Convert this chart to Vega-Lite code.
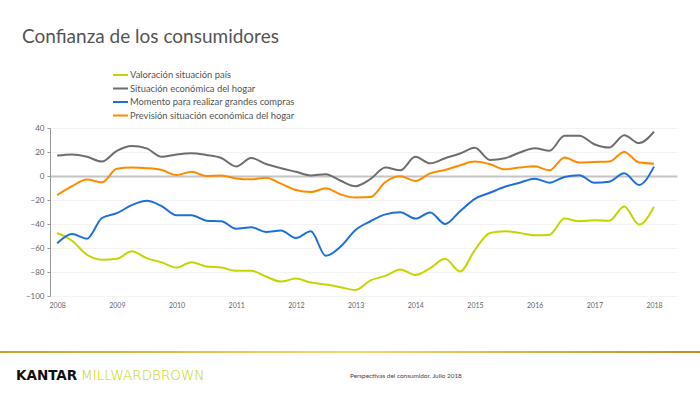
{
  "$schema": "https://vega.github.io/schema/vega-lite/v6.json",
  "width": 627,
  "height": 168,
  "autosize": {"type": "none"},
  "padding": {"left": 50, "top": 128, "right": 23, "bottom": 98},
  "background": "white",
  "title": {"text": "Confianza de los consumidores", "anchor": "start", "frame": "group", "dx": -28, "offset": 7, "baseline": "alphabetic", "fontSize": 19, "font": "Lato", "fontWeight": "normal", "color": "#555555"},
  "config": {"view": {"stroke": null}, "font": "Lato", "axis": {"labelOverlap": false}, "axisY": {"labelOverlap": false}},
  "layer": [
    {
      "data": {"values": [
        {"t": 2008, "Valoración situación país": -47.5, "Situación económica del hogar": 17, "Momento para realizar grandes compras": -56, "Previsión situación económica del hogar": -16},
        {"t": 2008.25, "Valoración situación país": -54, "Situación económica del hogar": 18, "Momento para realizar grandes compras": -48.3, "Previsión situación económica del hogar": -8.5},
        {"t": 2008.5, "Valoración situación país": -65.6, "Situación económica del hogar": 16, "Momento para realizar grandes compras": -52.2, "Previsión situación económica del hogar": -3},
        {"t": 2008.75, "Valoración situación país": -69.8, "Situación económica del hogar": 12, "Momento para realizar grandes compras": -35, "Previsión situación económica del hogar": -5.3},
        {"t": 2009, "Valoración situación país": -69, "Situación económica del hogar": 21, "Momento para realizar grandes compras": -31, "Previsión situación económica del hogar": 6},
        {"t": 2009.25, "Valoración situación país": -62.8, "Situación económica del hogar": 25, "Momento para realizar grandes compras": -24.3, "Previsión situación económica del hogar": 7},
        {"t": 2009.5, "Valoración situación país": -68.4, "Situación económica del hogar": 23, "Momento para realizar grandes compras": -20.7, "Previsión situación económica del hogar": 6.5},
        {"t": 2009.75, "Valoración situación país": -72, "Situación económica del hogar": 16, "Momento para realizar grandes compras": -25.1, "Previsión situación económica del hogar": 5},
        {"t": 2010, "Valoración situación país": -76.3, "Situación económica del hogar": 18, "Momento para realizar grandes compras": -32.7, "Previsión situación económica del hogar": 0.8},
        {"t": 2010.25, "Valoración situación país": -71.8, "Situación económica del hogar": 19, "Momento para realizar grandes compras": -32.7, "Previsión situación económica del hogar": 3.6},
        {"t": 2010.5, "Valoración situación país": -75.4, "Situación económica del hogar": 17.5, "Momento para realizar grandes compras": -37.2, "Previsión situación económica del hogar": 0},
        {"t": 2010.75, "Valoración situación país": -76.3, "Situación económica del hogar": 15, "Momento para realizar grandes compras": -37.7, "Previsión situación económica del hogar": 0.5},
        {"t": 2011, "Valoración situación país": -79, "Situación económica del hogar": 8, "Momento para realizar grandes compras": -43.9, "Previsión situación económica del hogar": -2},
        {"t": 2011.25, "Valoración situación país": -79, "Situación económica del hogar": 15, "Momento para realizar grandes compras": -42.7, "Previsión situación económica del hogar": -2.8},
        {"t": 2011.5, "Valoración situación país": -83.8, "Situación económica del hogar": 10, "Momento para realizar grandes compras": -46.6, "Previsión situación económica del hogar": -1.4},
        {"t": 2011.75, "Valoración situación país": -88, "Situación económica del hogar": 6.5, "Momento para realizar grandes compras": -45.5, "Previsión situación económica del hogar": -6.4},
        {"t": 2012, "Valoración situación país": -85.5, "Situación económica del hogar": 3.5, "Momento para realizar grandes compras": -51.7, "Previsión situación económica del hogar": -11.7},
        {"t": 2012.25, "Valoración situación país": -88.8, "Situación económica del hogar": 0.5, "Momento para realizar grandes compras": -46, "Previsión situación económica del hogar": -13.4},
        {"t": 2012.5, "Valoración situación país": -90.5, "Situación económica del hogar": 1.5, "Momento para realizar grandes compras": -66.5, "Previsión situación económica del hogar": -10.3},
        {"t": 2012.75, "Valoración situación país": -92.7, "Situación económica del hogar": -4, "Momento para realizar grandes compras": -58.7, "Previsión situación económica del hogar": -15.4},
        {"t": 2013, "Valoración situación país": -95, "Situación económica del hogar": -8.5, "Momento para realizar grandes compras": -45, "Previsión situación económica del hogar": -18},
        {"t": 2013.25, "Valoración situación país": -87, "Situación económica del hogar": -2.5, "Momento para realizar grandes compras": -37.7, "Previsión situación económica del hogar": -17.6},
        {"t": 2013.5, "Valoración situación país": -83.2, "Situación económica del hogar": 7, "Momento para realizar grandes compras": -32, "Previsión situación económica del hogar": -5},
        {"t": 2013.75, "Valoración situación país": -77.9, "Situación económica del hogar": 4.7, "Momento para realizar grandes compras": -30.2, "Previsión situación económica del hogar": -0.3},
        {"t": 2014, "Valoración situación país": -82.4, "Situación económica del hogar": 16, "Momento para realizar grandes compras": -35.5, "Previsión situación económica del hogar": -4.2},
        {"t": 2014.25, "Valoración situación país": -76.8, "Situación económica del hogar": 10.6, "Momento para realizar grandes compras": -30.4, "Previsión situación económica del hogar": 2.2},
        {"t": 2014.5, "Valoración situación país": -69, "Situación económica del hogar": 14.8, "Momento para realizar grandes compras": -40, "Previsión situación económica del hogar": 5},
        {"t": 2014.75, "Valoración situación país": -79.6, "Situación económica del hogar": 18.7, "Momento para realizar grandes compras": -29.3, "Previsión situación económica del hogar": 8.9},
        {"t": 2015, "Valoración situación país": -61.5, "Situación económica del hogar": 23.5, "Momento para realizar grandes compras": -19, "Previsión situación económica del hogar": 12},
        {"t": 2015.25, "Valoración situación país": -47.5, "Situación económica del hogar": 13.4, "Momento para realizar grandes compras": -14, "Previsión situación económica del hogar": 9.8},
        {"t": 2015.5, "Valoración situación país": -46, "Situación económica del hogar": 14.8, "Momento para realizar grandes compras": -9, "Previsión situación económica del hogar": 5.6},
        {"t": 2015.75, "Valoración situación país": -47.5, "Situación económica del hogar": 19.6, "Momento para realizar grandes compras": -5.6, "Previsión situación económica del hogar": 7},
        {"t": 2016, "Valoración situación país": -49.4, "Situación económica del hogar": 23.2, "Momento para realizar grandes compras": -2.2, "Previsión situación económica del hogar": 8.1},
        {"t": 2016.25, "Valoración situación país": -48.9, "Situación económica del hogar": 21, "Momento para realizar grandes compras": -5.6, "Previsión situación económica del hogar": 4.7},
        {"t": 2016.5, "Valoración situación país": -35.5, "Situación económica del hogar": 33.5, "Momento para realizar grandes compras": -0.8, "Previsión situación económica del hogar": 15.4},
        {"t": 2016.75, "Valoración situación país": -37.7, "Situación económica del hogar": 33.5, "Momento para realizar grandes compras": 0.6, "Previsión situación económica del hogar": 11.2},
        {"t": 2017, "Valoración situación país": -36.9, "Situación económica del hogar": 26.5, "Momento para realizar grandes compras": -5.6, "Previsión situación económica del hogar": 11.7},
        {"t": 2017.25, "Valoración situación país": -37.2, "Situación económica del hogar": 23.7, "Momento para realizar grandes compras": -4.7, "Previsión situación económica del hogar": 12},
        {"t": 2017.5, "Valoración situación país": -25.4, "Situación económica del hogar": 34, "Momento para realizar grandes compras": 2.2, "Previsión situación económica del hogar": 20.1},
        {"t": 2017.75, "Valoración situación país": -40.5, "Situación económica del hogar": 27.4, "Momento para realizar grandes compras": -7.5, "Previsión situación económica del hogar": 11.2},
        {"t": 2018, "Valoración situación país": -25.7, "Situación económica del hogar": 37, "Momento para realizar grandes compras": 7.8, "Previsión situación económica del hogar": 10.3}
      ]},
      "transform": [{"fold": ["Valoración situación país", "Situación económica del hogar", "Momento para realizar grandes compras", "Previsión situación económica del hogar"], "as": ["serie", "valor"]}],
      "mark": {"type": "line", "interpolate": "monotone", "strokeWidth": 2},
      "encoding": {
        "x": {"field": "t", "type": "quantitative", "scale": {"domain": [2007.88, 2018.385], "nice": false, "zero": false},
              "axis": {"title": null, "values": [2008, 2009, 2010, 2011, 2012, 2013, 2014, 2015, 2016, 2017, 2018], "format": "d", "domain": false, "ticks": false, "grid": false, "labelOverlap": false, "labelFontSize": 7, "labelColor": "#666666", "labelPadding": 5, "labelFont": "Lato"}},
        "y": {"field": "valor", "type": "quantitative", "scale": {"domain": [-100, 40], "nice": false},
              "axis": {"title": null, "values": [-100, -80, -60, -40, -20, 0, 20, 40], "labelOverlap": false, "domainColor": "#999999", "tickColor": "#999999", "tickSize": 3, "labelFontSize": 8, "labelColor": "#666666", "labelPadding": 3,
                       "gridColor": {"condition": {"test": "datum.value === 0", "value": "#c4c4c4"}, "value": "#f3f3f3"},
                       "gridWidth": {"condition": {"test": "datum.value === 0", "value": 2}, "value": 1},
                       "labelFont": "Lato"}},
        "color": {"field": "serie", "type": "nominal",
                  "scale": {"domain": ["Valoración situación país", "Situación económica del hogar", "Momento para realizar grandes compras", "Previsión situación económica del hogar"], "range": ["#c6d400", "#6e6e6e", "#1e6fdc", "#ff8a00"]},
                  "legend": {"orient": "none", "legendX": 62, "legendY": -59, "title": null, "symbolType": "stroke", "symbolSize": 225, "symbolStrokeWidth": 2, "labelFontSize": 9.4, "labelLimit": 400, "labelColor": "#555555", "labelFont": "Lato", "labelOffset": 1, "clipHeight": 12, "rowPadding": 1.5, "padding": 0}}
      }
    },
    {
      "data": {"values": [{}]},
      "mark": {"type": "rect", "x": -50, "x2": 650, "y": 223, "y2": 225, "fill": {"gradient": "linear", "x1": 0, "x2": 1, "y1": 0, "y2": 0, "stops": [{"offset": 0, "color": "#c9a227"}, {"offset": 0.5, "color": "#f3d870"}, {"offset": 1, "color": "#c09020"}]}},
      "encoding": {}
    },
    {
      "data": {"values": [{}]},
      "mark": {"type": "text", "text": "KANTAR", "x": -34, "y": 252, "align": "left", "baseline": "alphabetic", "font": "DejaVu Sans", "fontWeight": "bold", "fontSize": 13.5, "color": "#111111"},
      "encoding": {}
    },
    {
      "data": {"values": [{}]},
      "mark": {"type": "text", "text": "MILLWARDBROWN", "x": 31, "y": 252, "align": "left", "baseline": "alphabetic", "font": "DejaVu Sans", "fontWeight": 200, "fontSize": 13.5, "color": "#c6d400"},
      "encoding": {}
    },
    {
      "data": {"values": [{}]},
      "mark": {"type": "text", "text": "Perspectivas del consumidor. Julio 2018", "x": 300, "y": 250, "align": "left", "baseline": "alphabetic", "font": "Lato", "fontSize": 6.4, "color": "#444444"},
      "encoding": {}
    }
  ]
}
